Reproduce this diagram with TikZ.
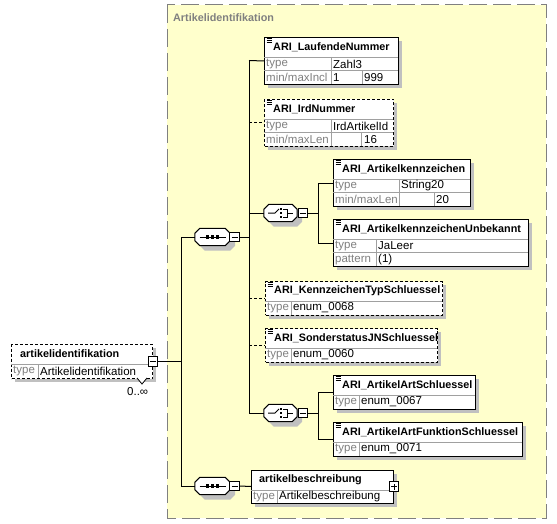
\documentclass[tikz,border=0pt]{standalone}
\usepackage{fontspec}
\setmainfont{Liberation Sans}
\definecolor{grpfill}{RGB}{255,255,204}
\definecolor{grpline}{RGB}{128,128,128}
\definecolor{shadegrey}{RGB}{192,192,192}
\definecolor{lblgrey}{RGB}{128,128,128}
\definecolor{rowgrey}{RGB}{160,160,160}
\newcommand{\simpicon}[2]{\foreach \k in {1.5,3.5,5.5} \draw[line width=0.7pt] (#1+2.5,#2+\k) -- (#1+7.5,#2+\k);}
\newcommand{\xbox}[6]{\fill[shadegrey] (#2+4,#3+4) rectangle (#2+#4+4,#3+#5+4);
  \node[elem,#6,minimum width=#4pt,minimum height=#5pt] (#1) at (#2,#3) {};}
\newcommand{\octpath}[1]{([xshift=5pt]#1.north west) -- ([xshift=-5pt]#1.north east) -- ([yshift=-5pt]#1.north east) -- ([yshift=5pt]#1.south east) -- ([xshift=-5pt]#1.south east) -- ([xshift=5pt]#1.south west) -- ([yshift=5pt]#1.south west) -- ([yshift=-5pt]#1.north west) -- cycle}
\newcommand{\octbox}[1]{\fill[shadegrey, transform canvas={shift={(5pt,-5pt)}}] \octpath{#1}; \filldraw[fill=white, line width=1pt] \octpath{#1};}
\newcommand{\seqmark}[1]{\draw[line width=1pt] ([xshift=-13pt]#1.center) -- ([xshift=13pt]#1.center);
  \foreach \d in {-5,0,5} \fill ([xshift=\d pt]#1.center) +(-1.6pt,-1.6pt) rectangle +(1.6pt,1.6pt);}
\newcommand{\chomark}[1]{\draw[line width=1pt] ([xshift=-12.5pt]#1.center) -- ([xshift=-5.5pt]#1.center) -- ([xshift=-1.5pt,yshift=4pt]#1.center);
  \foreach \d in {-4,0,4} \fill ([xshift=0.5pt,yshift=\d pt]#1.center) +(-1.2pt,-1.2pt) rectangle +(1.2pt,1.2pt);
  \draw[line width=1pt] ([xshift=2.5pt,yshift=4pt]#1.center) -- ([xshift=6.5pt,yshift=4pt]#1.center) -- ([xshift=6.5pt,yshift=-4pt]#1.center) -- ([xshift=2.5pt,yshift=-4pt]#1.center);
  \draw[line width=1pt] ([xshift=6.5pt]#1.center) -- ([xshift=12.5pt]#1.center);}

\begin{document}
\begin{tikzpicture}[x=1pt,y=-1pt,
  elem/.style={draw, line width=1pt, fill=white, inner sep=0pt, anchor=north west},
  opt/.style={dash pattern=on 3pt off 2pt},
  plain/.style={},
  grid/.style={rowgrey, line width=0.8pt},
  ttl/.style={font=\fontsize{10.8}{13}\selectfont\bfseries, anchor=west, inner sep=0pt},
  lbl/.style={font=\fontsize{11.5}{13}\selectfont, text=lblgrey, anchor=west, inner sep=0pt},
  val/.style={font=\fontsize{11.5}{13}\selectfont, anchor=west, inner sep=0pt},
  conn/.style={line width=1pt},
  octa/.style={minimum width=35pt, minimum height=17pt, inner sep=0pt},
  minbox/.style={draw, fill=white, line width=0.8pt, minimum size=9.5pt, inner sep=0pt, path picture={
    \draw[line width=0.8pt] ([xshift=-3pt]path picture bounding box.center) -- ([xshift=3pt]path picture bounding box.center);}},
  plusbox/.style={minbox, path picture={
    \draw[line width=0.8pt] ([xshift=-3pt]path picture bounding box.center) -- ([xshift=3pt]path picture bounding box.center);
    \draw[line width=0.8pt] ([yshift=-3pt]path picture bounding box.center) -- ([yshift=3pt]path picture bounding box.center);}}
]
\useasboundingbox (0,0) rectangle (557,524);

\draw[fill=grpfill, draw=grpline, line width=1pt, dash pattern=on 18pt off 6pt] (167,5) rectangle (546,518);
\node[ttl, text=grpline] (grp) at (173,18) {Artikelidentifikation};

\xbox{root}{11}{344}{141}{34}{opt}
\draw[grid] (11,364) -- (152,364) (38,364) -- (38,378);
\node[ttl] (root-t) at (20,354) {artikelidentifikation};
\node[lbl] (root-k) at (13,371) {type};
\node[val] (root-v) at (40,371) {Artikelidentifikation};
\draw[line width=0.8pt, fill=white] (137,378) -- (142,384) -- (147,378);
\node[val] (root-n) at (127,392) {0..∞};
\node[minbox] (rootm) at (root.east) {};

\node[octa] (seqa) at (212.5,237) {};
\octbox{seqa}
\seqmark{seqa}
\node[minbox] (seqam) at (234.5,237) {};
\node[octa] (seqb) at (212.5,486) {};
\octbox{seqb}
\seqmark{seqb}
\node[minbox] (seqbm) at (234.5,486) {};
\node[octa, minimum width=33pt] (choa) at (280.5,213) {};
\octbox{choa}
\chomark{choa}
\node[minbox] (choam) at (303,213) {};
\node[octa, minimum width=33pt] (chob) at (280.5,413) {};
\octbox{chob}
\chomark{chob}
\node[minbox] (chobm) at (303,413) {};

\xbox{lauf}{264}{37}{134}{47}{plain}
\draw[grid] (264,57) -- (398,57) (264,70.5) -- (398,70.5) (331,57) -- (331,84) (362,70.5) -- (362,84);
\simpicon{264}{37}
\node[ttl] (lauf-t) at (273,47) {ARI\_LaufendeNummer};
\node[lbl] (lauf-k1) at (266,64) {type};
\node[val] (lauf-v1) at (333,64) {Zahl3};
\node[lbl] (lauf-k2) at (266,77.5) {min/maxIncl};
\node[val] (lauf-v2) at (333,77.5) {1};
\node[val] (lauf-v3) at (364,77.5) {999};

\xbox{ird}{264}{99}{129}{47}{opt}
\draw[grid] (264,119) -- (393,119) (264,132.5) -- (393,132.5) (331,119) -- (331,146) (361,132.5) -- (361,146);
\simpicon{264}{99}
\node[ttl] (ird-t) at (273,109) {ARI\_IrdNummer};
\node[lbl] (ird-k1) at (266,126) {type};
\node[val] (ird-v1) at (333,126) {IrdArtikelId};
\node[lbl] (ird-k2) at (266,139.5) {min/maxLen};
\node[val] (ird-v3) at (364,139.5) {16};

\xbox{akz}{333}{159}{137}{47}{plain}
\draw[grid] (333,179) -- (470,179) (333,192.5) -- (470,192.5) (399,179) -- (399,206) (434,192.5) -- (434,206);
\simpicon{333}{159}
\node[ttl] (akz-t) at (342,169) {ARI\_Artikelkennzeichen};
\node[lbl] (akz-k1) at (335,186) {type};
\node[val] (akz-v1) at (401,186) {String20};
\node[lbl] (akz-k2) at (335,199.5) {min/maxLen};
\node[val] (akz-v3) at (436,199.5) {20};

\xbox{akzu}{333}{219}{195}{47}{plain}
\draw[grid] (333,239) -- (528,239) (333,252.5) -- (528,252.5) (376,239) -- (376,266);
\simpicon{333}{219}
\node[ttl] (akzu-t) at (342,229) {ARI\_ArtikelkennzeichenUnbekannt};
\node[lbl] (akzu-k1) at (335,246) {type};
\node[val] (akzu-v1) at (378,246) {JaLeer};
\node[lbl] (akzu-k2) at (335,259.5) {pattern};
\node[val] (akzu-v2) at (378,259.5) {(1)};

\xbox{kzt}{265}{281}{177}{33.5}{opt}
\draw[grid] (265,301) -- (442,301) (291,301) -- (291,314.5);
\simpicon{265}{281}
\node[ttl] (kzt-t) at (274,291) {ARI\_KennzeichenTypSchluessel};
\node[lbl] (kzt-k1) at (267,308) {type};
\node[val] (kzt-v1) at (293,308) {enum\_0068};

\xbox{sjn}{265}{328}{172}{33.5}{opt}
\draw[grid] (265,348) -- (437,348) (291,348) -- (291,361.5);
\simpicon{265}{328}
\node[ttl] (sjn-t) at (274,338) {ARI\_SonderstatusJNSchluessel};
\node[lbl] (sjn-k1) at (267,355) {type};
\node[val] (sjn-v1) at (293,355) {enum\_0060};

\xbox{aas}{333}{375}{142}{33.5}{plain}
\draw[grid] (333,395) -- (475,395) (359,395) -- (359,408.5);
\simpicon{333}{375}
\node[ttl] (aas-t) at (342,385) {ARI\_ArtikelArtSchluessel};
\node[lbl] (aas-k1) at (335,402) {type};
\node[val] (aas-v1) at (361,402) {enum\_0067};

\xbox{aafs}{333}{422}{189}{33.5}{plain}
\draw[grid] (333,442) -- (522,442) (359,442) -- (359,455.5);
\simpicon{333}{422}
\node[ttl] (aafs-t) at (342,432) {ARI\_ArtikelArtFunktionSchluessel};
\node[lbl] (aafs-k1) at (335,449) {type};
\node[val] (aafs-v1) at (361,449) {enum\_0071};

\xbox{besch}{251}{469.5}{142}{33}{plain}
\draw[grid] (251,490) -- (393,490) (277,490) -- (277,502.5);
\node[ttl] (besch-t) at (259,480) {artikelbeschreibung};
\node[lbl] (besch-k1) at (253,496.5) {type};
\node[val] (besch-v1) at (279,496.5) {Artikelbeschreibung};
\node[plusbox] (beschp) at (besch.east) {};

\coordinate (ja) at (181,237);
\coordinate (jb) at (181,486);
\coordinate (ka) at (249,60.5);
\coordinate (kb) at (249,413);
\coordinate (kx) at (318,0);
\draw[conn] (rootm.east) -- (rootm.east -| ja);
\draw[conn] (ja) -- (jb);
\draw[conn] (ja) -- (seqa.west);
\draw[conn] (jb) -- (seqb.west);
\draw[conn] (seqam.east) -- (seqam.east -| ka);
\draw[conn] (ka) -- (kb);
\draw[conn] (ka) -- (lauf.west);
\draw[conn, opt] (ird.west -| ka) -- (ird.west);
\draw[conn] (choa.west -| ka) -- (choa.west);
\draw[conn, opt] (kzt.west -| ka) -- (kzt.west);
\draw[conn, opt] (sjn.west -| ka) -- (sjn.west);
\draw[conn] (kb) -- (chob.west);
\draw[conn] (choam.east) -- (choam.east -| kx);
\draw[conn] (akz.west -| kx) -- (akzu.west -| kx);
\draw[conn] (akz.west -| kx) -- (akz.west);
\draw[conn] (akzu.west -| kx) -- (akzu.west);
\draw[conn] (chobm.east) -- (chobm.east -| kx);
\draw[conn] (aas.west -| kx) -- (aafs.west -| kx);
\draw[conn] (aas.west -| kx) -- (aas.west);
\draw[conn] (aafs.west -| kx) -- (aafs.west);
\draw[conn] (seqbm.east) -- (besch.west);
\end{tikzpicture}
\end{document}
